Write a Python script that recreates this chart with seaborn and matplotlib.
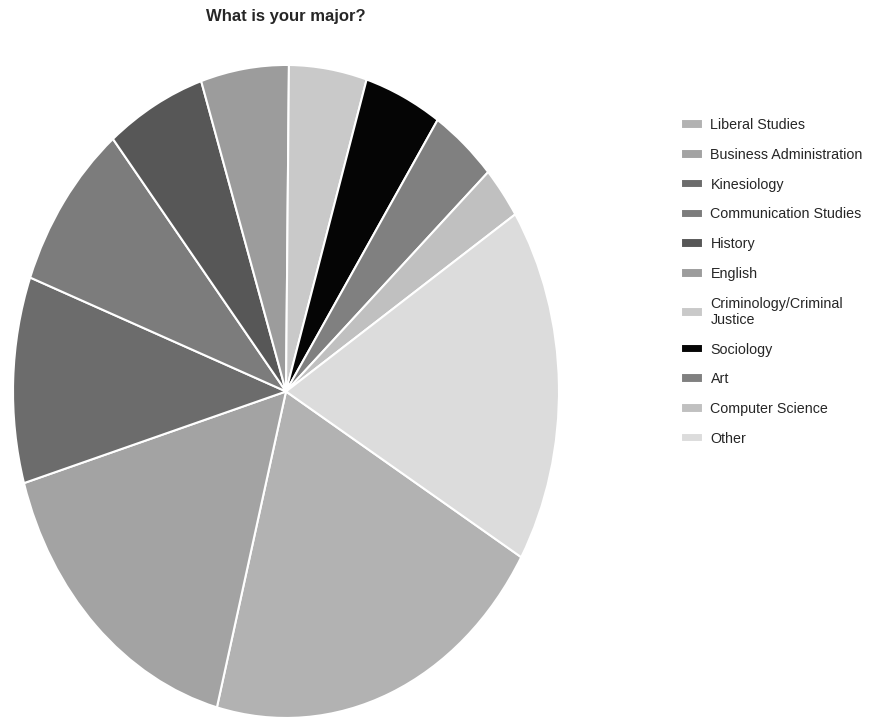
import numpy as np
import pandas as pd
import matplotlib
matplotlib.use('Agg')
import matplotlib.pyplot as plt
import seaborn as sns

# survey answers, share in percent
majors = ['Liberal Studies', 'Business Administration', 'Kinesiology',
          'Communication Studies', 'History', 'English',
          'Criminology/Criminal\nJustice', 'Sociology', 'Art',
          'Computer Science', 'Other']
shares = [20.6, 16.4, 10.2, 8.4, 5.9, 5.2, 4.6, 4.6, 3.9, 2.6, 17.6]
greys = ['#b2b2b2', '#a3a3a3', '#6c6c6c', '#7c7c7c', '#575757', '#9c9c9c',
         '#c9c9c9', '#050505', '#808080', '#c0c0c0', '#dcdcdc']

df = pd.DataFrame({'major': majors, 'share': shares})

sns.set_theme(style='white')
plt.rcParams['font.family'] = ['Liberation Sans', 'DejaVu Sans']

fig = plt.figure(figsize=(8.73, 7.21), dpi=100)
ax = fig.add_axes([0.0149, 0.0042, 0.6254, 0.9057])

pal = sns.color_palette(greys)
wedges, _ = ax.pie(df['share'], colors=pal, startangle=-30.5, counterclock=False,
                   radius=1, wedgeprops=dict(edgecolor='white', linewidth=1.5))
ax.set_aspect('auto')
ax.set_xlim(-1, 1)
ax.set_ylim(-1, 1)
ax.axis('off')

fig.text(286 / 873, 1 - 16 / 721, 'What is your major?', ha='center', va='center',
         fontsize=12, fontweight='bold')

# legend to the right of the pie
fig.legend(wedges, df['major'], loc='upper left',
           bbox_to_anchor=(674 / 873, 1 - 111 / 721), frameon=False,
           fontsize=10.3, handlelength=1.5, handleheight=0.65,
           handletextpad=0.55, labelspacing=1.1, borderpad=0)

fig.savefig('out.png', dpi=100)
